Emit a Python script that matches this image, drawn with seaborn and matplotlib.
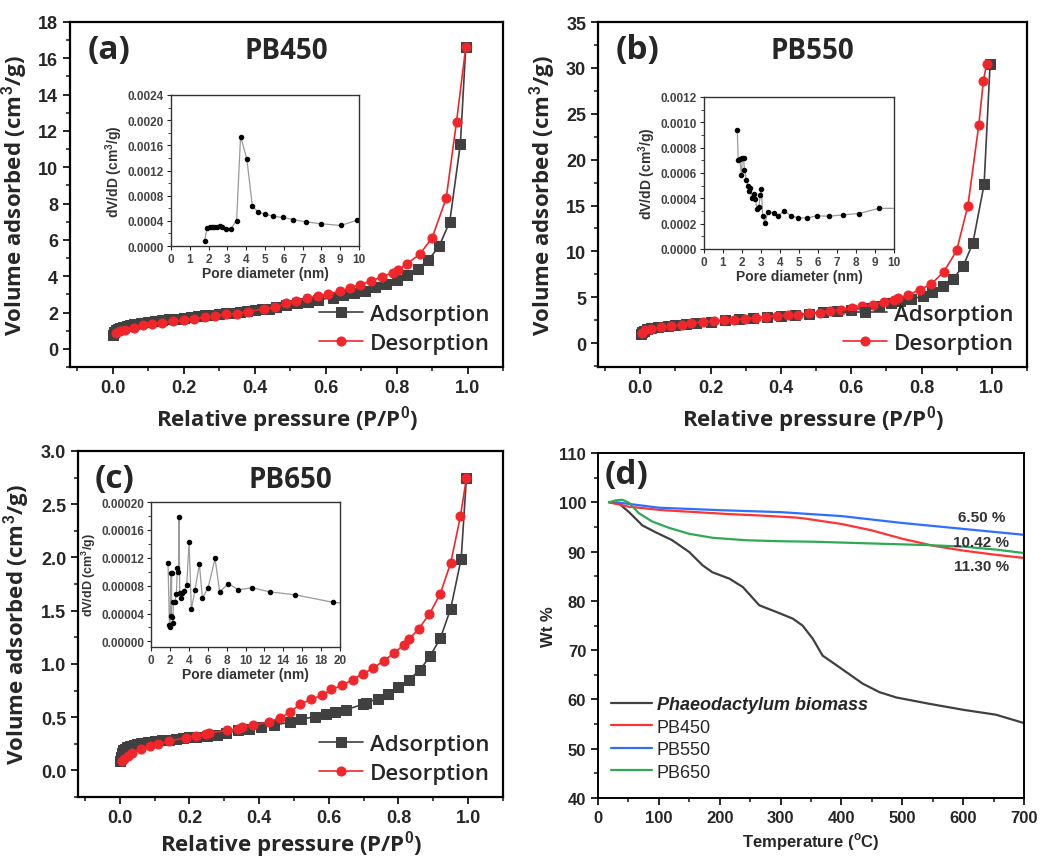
import matplotlib
matplotlib.use("Agg")
import matplotlib.pyplot as plt
import seaborn as sns
import numpy as np
from matplotlib.ticker import AutoMinorLocator, MultipleLocator

# ---- (a) PB450 isotherm ----
a_ads_p = [0.001, 0.005, 0.01, 0.015, 0.02, 0.03, 0.04, 0.05, 0.06, 0.08, 0.10, 0.12, 0.14, 0.16, 0.18,
           0.20, 0.22, 0.24, 0.26, 0.28, 0.30, 0.32, 0.34, 0.36, 0.38, 0.40, 0.42, 0.44, 0.46, 0.49,
           0.52, 0.55, 0.58, 0.62, 0.65, 0.68, 0.71, 0.74, 0.77, 0.80, 0.83, 0.86, 0.89, 0.92, 0.95,
           0.98, 0.995]
a_ads_v = [0.75, 0.95, 1.05, 1.12, 1.17, 1.23, 1.28, 1.32, 1.36, 1.42, 1.48, 1.53, 1.58, 1.62, 1.67,
           1.72, 1.76, 1.80, 1.84, 1.88, 1.92, 1.96, 2.00, 2.04, 2.08, 2.12, 2.17, 2.22, 2.30, 2.40,
           2.50, 2.60, 2.70, 2.82, 2.95, 3.05, 3.20, 3.40, 3.55, 3.78, 4.05, 4.42, 4.90, 5.65, 7.00,
           11.3, 16.6]
a_des_p = [0.995, 0.969, 0.94, 0.90, 0.865, 0.83, 0.805, 0.79, 0.76, 0.727, 0.697, 0.668, 0.64, 0.608,
           0.578, 0.548, 0.517, 0.488, 0.458, 0.427, 0.382, 0.351, 0.32, 0.289, 0.26, 0.23, 0.20, 0.17,
           0.14, 0.11, 0.085, 0.06, 0.035, 0.022, 0.01]
a_des_v = [16.6, 12.5, 8.3, 6.1, 5.2, 4.7, 4.35, 4.2, 3.98, 3.72, 3.54, 3.35, 3.17, 3.02,
           2.90, 2.81, 2.63, 2.50, 2.28, 2.20, 2.05, 1.94, 1.90, 1.83, 1.74, 1.65, 1.57, 1.52,
           1.43, 1.35, 1.30, 1.17, 1.05, 0.96, 0.87]
a_pore_d = [1.79, 1.91, 2.06, 2.18, 2.30, 2.43, 2.58, 2.72, 2.90, 3.17, 3.49, 3.70, 4.03, 4.33, 4.65,
            5.00, 5.44, 5.94, 6.49, 7.16, 8.00, 9.02, 9.91]
a_pore_v = [0.000084, 0.00029, 0.00030, 0.00030, 0.00030, 0.00030, 0.000316, 0.000295, 0.000274,
            0.000268, 0.000405, 0.00174, 0.00139, 0.00063, 0.000537, 0.000505, 0.000474, 0.000453,
            0.00042, 0.000384, 0.000353, 0.000326, 0.00041]

# ---- (b) PB550 isotherm ----
b_ads_p = [0.001, 0.005, 0.01, 0.02, 0.03, 0.05, 0.08, 0.10, 0.13, 0.16, 0.20, 0.24, 0.28, 0.32, 0.36,
           0.40, 0.44, 0.48, 0.52, 0.56, 0.60, 0.64, 0.68, 0.712, 0.74, 0.771, 0.803, 0.831, 0.862,
           0.89, 0.919, 0.946, 0.978, 0.995]
b_ads_v = [0.95, 1.2, 1.35, 1.5, 1.6, 1.75, 1.9, 2.0, 2.1, 2.2, 2.35, 2.5, 2.6, 2.75, 2.85,
           2.95, 3.05, 3.2, 3.35, 3.5, 3.65, 3.85, 4.1, 4.38, 4.57, 4.82, 5.1, 5.54, 6.2,
           7.0, 8.44, 10.9, 17.3, 30.4]
b_des_p = [0.985, 0.976, 0.963, 0.932, 0.90, 0.864, 0.828, 0.795, 0.761, 0.734, 0.721, 0.693, 0.662,
           0.631, 0.602, 0.571, 0.54, 0.51, 0.479, 0.45, 0.42, 0.388, 0.358, 0.328, 0.298, 0.267,
           0.239, 0.209, 0.179, 0.145, 0.12, 0.088, 0.06, 0.031, 0.015, 0.005]
b_des_v = [30.4, 28.6, 23.8, 15.0, 10.1, 7.8, 6.45, 5.8, 5.25, 4.9, 4.7, 4.46, 4.17,
           4.0, 3.84, 3.66, 3.48, 3.33, 3.26, 3.12, 3.04, 2.97, 2.86, 2.75, 2.64, 2.57,
           2.54, 2.39, 2.32, 2.17, 2.0, 1.88, 1.74, 1.52, 1.38, 1.16]
b_pore_d = [1.75, 1.80, 1.88, 1.97, 2.02, 2.08, 2.13, 2.23, 2.32, 2.39, 2.44, 2.50, 2.62, 2.70, 2.79,
            2.88, 2.97, 3.02, 3.09, 3.21, 3.37, 3.66, 3.91, 4.21, 4.57, 4.94, 5.41, 5.93, 6.58,
            7.29, 8.15, 9.21, 10.5]
b_pore_v = [0.00094, 0.000702, 0.000707, 0.000586, 0.000715, 0.000718, 0.000624, 0.000547, 0.0005,
            0.000456, 0.000484, 0.000404, 0.000435, 0.000396, 0.000313, 0.000332, 0.000427, 0.000474,
            0.000262, 0.000207, 0.000293, 0.000285, 0.000264, 0.0003, 0.000264, 0.000246, 0.000244,
            0.000262, 0.000259, 0.000269, 0.00028, 0.000321, 0.000321]

# ---- (c) PB650 isotherm ----
c_ads_p = [0.001, 0.003, 0.006, 0.01, 0.015, 0.02, 0.03, 0.04, 0.05, 0.06, 0.08, 0.10, 0.12, 0.14,
           0.16, 0.18, 0.20, 0.22, 0.25, 0.28, 0.305, 0.338, 0.37, 0.404, 0.442, 0.489, 0.52, 0.56,
           0.593, 0.617, 0.65, 0.697, 0.707, 0.74, 0.77, 0.80, 0.83, 0.861, 0.89, 0.92, 0.95, 0.98,
           0.995]
c_ads_v = [0.09, 0.13, 0.16, 0.19, 0.205, 0.215, 0.23, 0.24, 0.25, 0.255, 0.265, 0.275, 0.283, 0.29,
           0.297, 0.303, 0.31, 0.316, 0.324, 0.333, 0.353, 0.375, 0.39, 0.41, 0.425, 0.453, 0.484, 0.50,
           0.53, 0.547, 0.57, 0.62, 0.634, 0.675, 0.72, 0.78, 0.853, 0.94, 1.07, 1.24, 1.52, 1.99,
           2.75]
c_des_p = [0.995, 0.978, 0.95, 0.92, 0.889, 0.858, 0.83, 0.815, 0.787, 0.757, 0.728, 0.697, 0.669,
           0.639, 0.607, 0.579, 0.549, 0.517, 0.489, 0.459, 0.428, 0.382, 0.35, 0.338, 0.309, 0.257,
           0.246, 0.22, 0.19, 0.14, 0.11, 0.087, 0.061, 0.035, 0.023, 0.011, 0.007]
c_des_v = [2.75, 2.39, 1.95, 1.66, 1.47, 1.33, 1.23, 1.18, 1.10, 1.03, 0.96, 0.906, 0.853,
           0.80, 0.76, 0.706, 0.666, 0.62, 0.547, 0.49, 0.456, 0.425, 0.406, 0.39, 0.375, 0.353,
           0.338, 0.32, 0.306, 0.275, 0.244, 0.228, 0.197, 0.166, 0.134, 0.103, 0.088]
c_pore_d = [1.80, 1.95, 2.02, 2.09, 2.19, 2.16, 2.26, 2.30, 2.37, 2.51, 2.69, 2.79, 2.90, 2.97, 3.04,
            3.14, 3.25, 3.50, 3.78, 4.03, 4.27, 4.66, 5.12, 5.44, 6.04, 6.78, 7.27, 8.19, 9.25,
            10.7, 12.6, 15.2, 19.3, 21.0]
c_pore_v = [0.000112, 0.000024, 0.00002, 0.000098, 0.000098, 0.000036, 0.000035, 0.000027, 0.000056,
            0.000056, 0.000068, 0.000106, 0.0001, 0.000178, 0.00007, 0.000062, 0.00007, 0.000073,
            0.000081, 0.000143, 0.000046, 0.000074, 0.000111, 0.000062, 0.000077, 0.000119, 0.000071,
            0.000083, 0.000074, 0.000077, 0.000071, 0.000067, 0.000056, 0.000054]

# ---- (d) TGA ----
tga_biomass_t = [18, 35, 51, 73, 95, 122, 150, 172, 188, 216, 238, 265, 292, 320, 336, 353, 369, 397,
                 435, 462, 490, 545, 600, 654, 700]
tga_biomass_w = [100, 99.7, 98.0, 95.3, 93.9, 92.3, 89.9, 87.2, 85.8, 84.5, 82.8, 79.1, 77.8, 76.4,
                 75.0, 72.3, 68.9, 66.5, 63.2, 61.5, 60.4, 59.1, 57.9, 56.9, 55.2]
tga_pb450_t = [18, 51, 106, 161, 216, 270, 325, 340, 400, 450, 500, 550, 600, 650, 700]
tga_pb450_w = [100, 99.1, 98.4, 98.0, 97.6, 97.3, 96.9, 96.7, 95.6, 94.3, 92.6, 91.2, 90.2, 89.4, 88.7]
tga_pb550_t = [30, 100, 200, 300, 400, 500, 600, 700]
tga_pb550_w = [100, 98.9, 98.4, 98.0, 97.2, 95.8, 94.6, 93.4]
tga_pb650_t = [18, 30, 40, 51, 67, 89, 117, 150, 188, 243, 298, 353, 408, 462, 545, 600, 654, 700]
tga_pb650_w = [100, 100.4, 100.5, 99.9, 97.8, 96.1, 94.8, 93.6, 92.8, 92.3, 92.1, 92.0, 91.8, 91.6,
               91.3, 91.0, 90.4, 89.7]
tga_labels = ["Phaeodactylum biomass", "PB450", "PB550", "PB650"]
loss_text = ["6.50 %", "10.42 %", "11.30 %"]
loss_t = [630, 630, 630]
loss_w = [97.0, 91.9, 87.0]

sns.set_theme(style="ticks")
plt.rcParams['font.family'] = ['Liberation Sans', 'DejaVu Sans']
plt.rcParams['mathtext.fontset'] = 'custom'
plt.rcParams['mathtext.bf'] = 'Liberation Sans:bold'
plt.rcParams['mathtext.rm'] = 'Liberation Sans:bold'

W, H = 1040, 862
fig = plt.figure(figsize=(W / 100, H / 100), dpi=100)


def box(l, t, r, b):
    return [l / W, 1 - b / H, (r - l) / W, (b - t) / H]


GRAY = '#404040'
RED = '#f0262b'


def style_axes(ax, lw=1.6, size=13):
    for s in ax.spines.values():
        s.set_linewidth(lw)
        s.set_color('black')
    ax.tick_params(which='major', length=5, width=1.4, labelsize=size, direction='out')
    ax.tick_params(which='minor', length=3, width=1.2, direction='out')
    for lab in ax.get_xticklabels() + ax.get_yticklabels():
        lab.set_fontweight('bold')
    ax.xaxis.set_minor_locator(AutoMinorLocator(2))
    ax.yaxis.set_minor_locator(AutoMinorLocator(2))


def isotherm(rect, ads_p, ads_v, des_p, des_v, ylim, ystep, tag, name):
    ax = fig.add_axes(box(*rect))
    sns.lineplot(x=ads_p, y=ads_v, ax=ax, color=GRAY, marker='s', markersize=6.5, markeredgecolor=GRAY,
                 lw=1.2, estimator=None, sort=False, label='Adsorption')
    sns.lineplot(x=des_p, y=des_v, ax=ax, color=RED, marker='o', markersize=6.5, markeredgecolor=RED,
                 lw=1.2, estimator=None, sort=False, label='Desorption')
    ax.set_xlim(-0.12, 1.1)
    ax.set_ylim(*ylim)
    ax.yaxis.set_major_locator(MultipleLocator(ystep))
    ax.set_xticks(np.arange(0, 1.01, 0.2))
    style_axes(ax)
    ax.set_xlabel('Relative pressure (P/P$^{\\mathbf{0}}$)', fontsize=16, fontweight='bold',
                  family='Open Sans', labelpad=5)
    ax.set_ylabel('Volume adsorbed (cm$^{\\mathbf{3}}$/g)', fontsize=16, fontweight='bold',
                  family='Open Sans', labelpad=6)
    ax.text(0.04, 0.968, tag, transform=ax.transAxes, fontsize=24, fontweight='bold', va='top',
            family='Open Sans')
    ax.text(0.5, 0.96, name, transform=ax.transAxes, fontsize=20, fontweight='bold', va='top',
            ha='center', family='Open Sans')
    ax.legend(loc='lower right', frameon=False,
              prop={'family': 'Open Sans', 'size': 16, 'weight': 'semibold'},
              handlelength=2.0, handletextpad=0.3, borderaxespad=0.2, labelspacing=0.35,
              bbox_to_anchor=(1.0, 0.0))
    return ax


def inset(rect, d, v, xlim, xstep, ylim, ystep, yfmt, ysize=10):
    ax = fig.add_axes(box(*rect))
    sns.lineplot(x=d, y=v, ax=ax, color='#9a9a9a', lw=0.9, marker='o', markersize=3.2,
                 markerfacecolor='black', markeredgecolor='black', estimator=None, sort=False)
    ax.set_xlim(*xlim)
    ax.set_ylim(*ylim)
    ax.xaxis.set_major_locator(MultipleLocator(xstep))
    ax.yaxis.set_major_locator(MultipleLocator(ystep))
    ax.yaxis.set_major_formatter(plt.FormatStrFormatter(yfmt))
    for s in ax.spines.values():
        s.set_linewidth(1.0)
        s.set_color('#333333')
    ax.tick_params(which='major', length=3, width=0.8, labelsize=8.5, labelcolor='#444444', pad=2)
    ax.tick_params(which='minor', length=2, width=0.6)
    ax.yaxis.set_minor_locator(AutoMinorLocator(2))
    for lab in ax.get_xticklabels() + ax.get_yticklabels():
        lab.set_fontweight('bold')
    ax.set_xlabel('Pore diameter (nm)', fontsize=10, fontweight='bold', color='#333333', labelpad=1)
    ax.set_ylabel('dV/dD (cm$^{\\mathbf{3}}$/g)', fontsize=ysize, fontweight='bold', color='#333333',
                  labelpad=2)
    return ax


isotherm((70, 23, 503, 368), a_ads_p, a_ads_v, a_des_p, a_des_v, (-1, 18), 2, '(a)', 'PB450')
isotherm((598, 23, 1027, 368), b_ads_p, b_ads_v, b_des_p, b_des_v, (-2.6, 35), 5, '(b)', 'PB550')
axc = isotherm((78, 452, 503, 798), c_ads_p, c_ads_v, c_des_p, c_des_v, (-0.25, 3.0), 0.5, '(c)', 'PB650')
axc.yaxis.set_major_formatter(plt.FormatStrFormatter('%.1f'))
axc.xaxis.labelpad = 2
for lab in axc.get_yticklabels():
    lab.set_fontweight('bold')

inset((171, 96, 359, 247), a_pore_d, a_pore_v, (0, 10), 1, (0, 0.0024), 0.0004, '%.4f')
inset((704, 98, 894, 250), b_pore_d, b_pore_v, (0, 10), 1, (0, 0.0012), 0.0002, '%.4f')
inset((151, 503, 340, 648), c_pore_d, c_pore_v, (0, 20), 2, (-0.000008, 0.0002), 0.00004, '%.5f',
      ysize=9)

# ---- TGA panel ----
axd = fig.add_axes(box(598, 454, 1024, 799))
tga_colors = ['#404040', '#ff3333', '#2f6fff', '#2eaa55']
series = [(tga_biomass_t, tga_biomass_w), (tga_pb450_t, tga_pb450_w),
          (tga_pb550_t, tga_pb550_w), (tga_pb650_t, tga_pb650_w)]
for (t, w), col, lab in zip(series, tga_colors, tga_labels):
    sns.lineplot(x=t, y=w, ax=axd, color=col, lw=1.6, label=lab, estimator=None, sort=False)
axd.set_xlim(0, 700)
axd.set_ylim(40, 110)
axd.xaxis.set_major_locator(MultipleLocator(100))
axd.yaxis.set_major_locator(MultipleLocator(10))
style_axes(axd, lw=1.4, size=12)
axd.set_xlabel('Temperature ($^{\\mathbf{o}}$C)', fontsize=12, fontweight='bold', labelpad=4)
axd.set_ylabel('Wt %', fontsize=12, fontweight='bold', labelpad=2)
axd.text(0.015, 0.985, '(d)', transform=axd.transAxes, fontsize=24, fontweight='bold', va='top',
         family='Open Sans')
for txt, t, w in zip(loss_text, loss_t, loss_w):
    axd.text(t, w, txt, fontsize=11, fontweight='bold', color='#333333', ha='center', va='center')
leg = axd.legend(loc='lower left', frameon=False, fontsize=13, handlelength=2.3, handletextpad=0.25,
                 labelspacing=0.3, borderaxespad=0.3, bbox_to_anchor=(0.0, 0.014))
leg.get_texts()[0].set_fontstyle('italic')
leg.get_texts()[0].set_fontweight('bold')

fig.savefig('out.png', dpi=100)
